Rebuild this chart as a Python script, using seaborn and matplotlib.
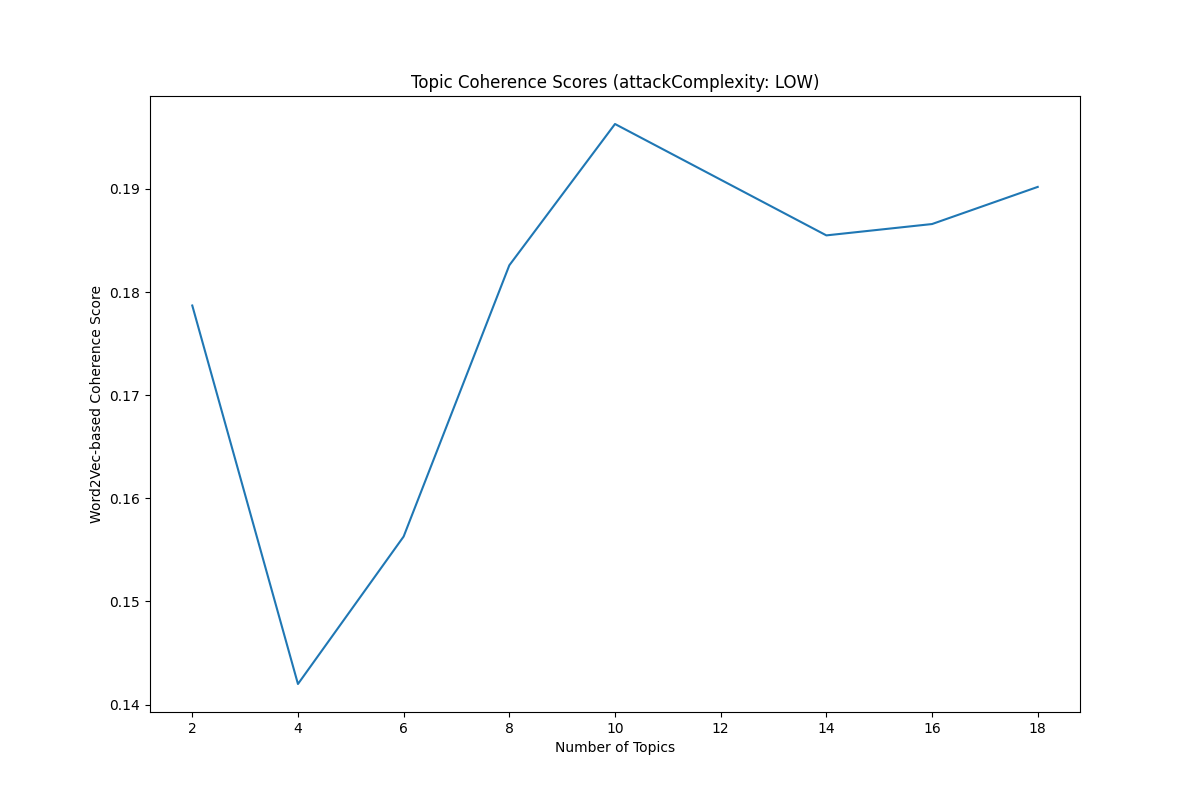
import matplotlib
matplotlib.use("Agg")
import pandas as pd
import seaborn as sns
import matplotlib.pyplot as plt

# Values
num_topics = [2, 4, 6, 8, 10, 14, 16, 18]
coherence = [0.1787, 0.1420, 0.1563, 0.1826, 0.1963, 0.1855, 0.1866, 0.1902]

df = pd.DataFrame({"topics": num_topics, "score": coherence})

plt.figure(figsize=(12, 8), dpi=100)
ax = sns.lineplot(data=df, x="topics", y="score", color="#1f77b4")
ax.set_xticks(range(2, 19, 2))
ax.set_title("Topic Coherence Scores (attackComplexity: LOW)")
ax.set_xlabel("Number of Topics")
ax.set_ylabel("Word2Vec-based Coherence Score")
plt.savefig("out.png", dpi=100)
